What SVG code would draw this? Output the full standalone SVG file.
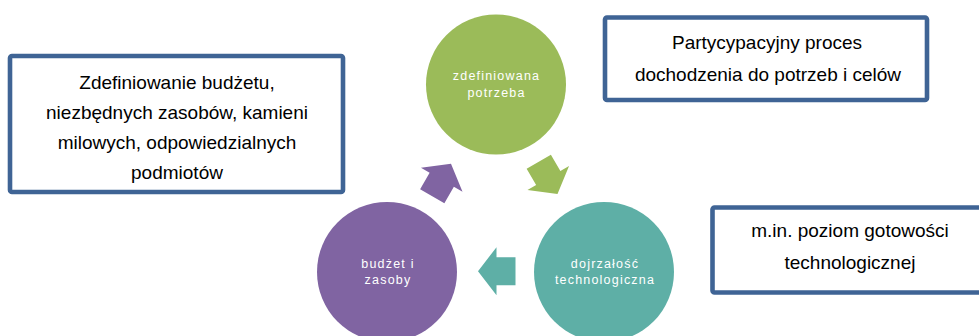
<svg xmlns="http://www.w3.org/2000/svg" width="979" height="336" viewBox="0 0 979 336">
<style>
.box{fill:#ffffff;stroke:#3F6495;stroke-width:4.6}
.bt{font-family:"Liberation Sans",Arial,sans-serif;font-size:19px;fill:#000000;text-anchor:middle}
.ct{font-family:"Liberation Sans",Arial,sans-serif;font-size:12.5px;fill:#ffffff;text-anchor:middle;letter-spacing:1.2px}
</style>
<defs>
<polygon id="arr" points="-18.5,0 0,-24 0,-14 19,-14 19,14 0,14 0,24"/>
</defs>
<rect width="979" height="336" fill="#ffffff"/>
<g id="connectors">
<use href="#arr" transform="translate(496.5,271.2)" fill="#5EAFA6"/>
<use href="#arr" transform="rotate(120,495.5,209.7) translate(496.5,271.2)" fill="#8064A2"/>
<use href="#arr" transform="rotate(-120,495.5,209.7) translate(496.5,271.2)" fill="#9BBB59"/>
</g>
<g id="node-need">
<circle cx="496" cy="84.5" r="70" fill="#9BBB59"/>
<text class="ct" x="496.5" y="80">zdefiniowana</text>
<text class="ct" x="496.5" y="96.5">potrzeba</text>
</g>
<g id="node-budget">
<circle cx="387" cy="272" r="70" fill="#8064A2"/>
<text class="ct" x="388" y="267.5">budżet i</text>
<text class="ct" x="388" y="284.3">zasoby</text>
</g>
<g id="node-tech">
<circle cx="604" cy="272" r="70" fill="#5EAFA6"/>
<text class="ct" x="605" y="267.5">dojrzałość</text>
<text class="ct" x="605" y="284.3">technologiczna</text>
</g>
<g id="box-left">
<rect class="box" x="10" y="56" width="333" height="136" rx="2"/>
<text class="bt" x="177" y="89">Zdefiniowanie budżetu,</text>
<text class="bt" x="177" y="119">niezbędnych zasobów, kamieni</text>
<text class="bt" x="177" y="149">milowych, odpowiedzialnych</text>
<text class="bt" x="177" y="178.5">podmiotów</text>
</g>
<g id="box-top-right">
<rect class="box" x="605" y="17.5" width="322" height="82.5" rx="2"/>
<text class="bt" x="767" y="48.5">Partycypacyjny proces</text>
<text class="bt" x="768" y="80.5">dochodzenia do potrzeb i celów</text>
</g>
<g id="box-bottom-right">
<rect class="box" x="712.5" y="207.5" width="300" height="85" rx="2"/>
<text class="bt" x="850" y="237">m.in. poziom gotowości</text>
<text class="bt" x="850" y="269">technologicznej</text>
</g>
</svg>
